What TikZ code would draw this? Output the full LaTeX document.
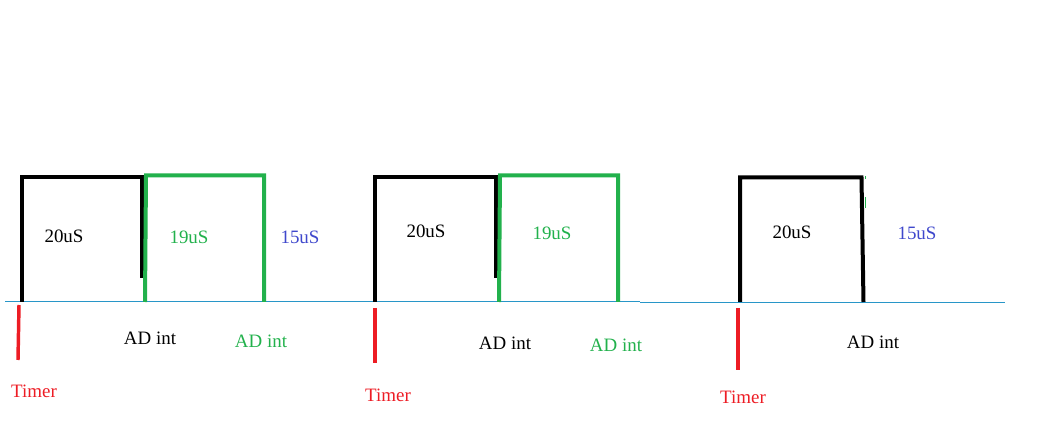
\documentclass[tikz,border=0pt]{standalone}
\usepackage{fontspec}
\setmainfont{Liberation Serif}
\definecolor{pgreen}{RGB}{34,177,76}
\definecolor{pred}{RGB}{237,28,36}
\definecolor{pblue}{RGB}{63,72,204}
\definecolor{pcyan}{RGB}{40,150,200}

\begin{document}
\begin{tikzpicture}[x=0.75pt,y=0.75pt,yscale=-1,xscale=1,
    blk/.style={line width=3pt,black},
    grn/.style={line width=3pt,pgreen},
    tick/.style={line width=2.6pt,pred},
    lbl/.style={inner sep=0.75pt,font=\fontsize{14.2}{17}\selectfont}]
    \useasboundingbox (0,0) rectangle (1040,445); %diagram 1040 x 445

    %Straight Lines [baseline]
    \draw [pcyan,line width=0.75pt]   (5,301.5) -- (640,301.5) ;
    \draw [pcyan,line width=0.75pt]   (640,302.5) -- (1005,302.5) ;

    %Pulse one
    \draw [blk]   (21.5,302) -- (21.5,177) -- (142,177) -- (142,278) ;
    \draw [grn]   (145,302) -- (146,175.5) -- (264,175.5) -- (264,302) ;
    \draw [tick]  (19,305) -- (18,360) ;
    %Pulse two
    \draw [blk]   (375,302) -- (375,177) -- (495.5,177) -- (495.5,278) ;
    \draw [grn]   (499,302) -- (500,175.5) -- (618,175.5) -- (618,302) ;
    \draw [tick]  (375,308) -- (375,363) ;
    %Pulse three
    \draw [blk]   (740,302) -- (740,177.5) -- (861.5,177.5) -- (863.5,302) ;
    \draw [pgreen,line width=0.75pt]   (865,176) -- (865,179) ;
    \draw [pgreen,line width=0.75pt]   (865,197) -- (865,208) ;
    \draw [tick]  (738,308) -- (738,370) ;

    % Text Node
    \node [lbl] (durA) at (64,236) {20uS};
    % Text Node
    \node [lbl,text=pgreen] (durgA) at (189,237) {19uS};
    % Text Node
    \node [lbl,text=pblue] (restA) at (300,237) {15uS};
    % Text Node
    \node [lbl] (adA) at (150,338) {AD int};
    % Text Node
    \node [lbl,text=pgreen] (adgA) at (261,341) {AD int};
    % Text Node
    \node [lbl,text=pred] (timerA) at (34,391) {Timer};

    % Text Node
    \node [lbl] (durB) at (426,231) {20uS};
    % Text Node
    \node [lbl,text=pgreen] (durgB) at (552,233) {19uS};
    % Text Node
    \node [lbl] (adB) at (505,343) {AD int};
    % Text Node
    \node [lbl,text=pgreen] (adgB) at (616,345) {AD int};
    % Text Node
    \node [lbl,text=pred] (timerB) at (388,395) {Timer};

    % Text Node
    \node [lbl] (durC) at (792,232) {20uS};
    % Text Node
    \node [lbl,text=pblue] (restC) at (917,233) {15uS};
    % Text Node
    \node [lbl] (adC) at (873,342) {AD int};
    % Text Node
    \node [lbl,text=pred] (timerC) at (743,397) {Timer};
\end{tikzpicture}
\end{document}
